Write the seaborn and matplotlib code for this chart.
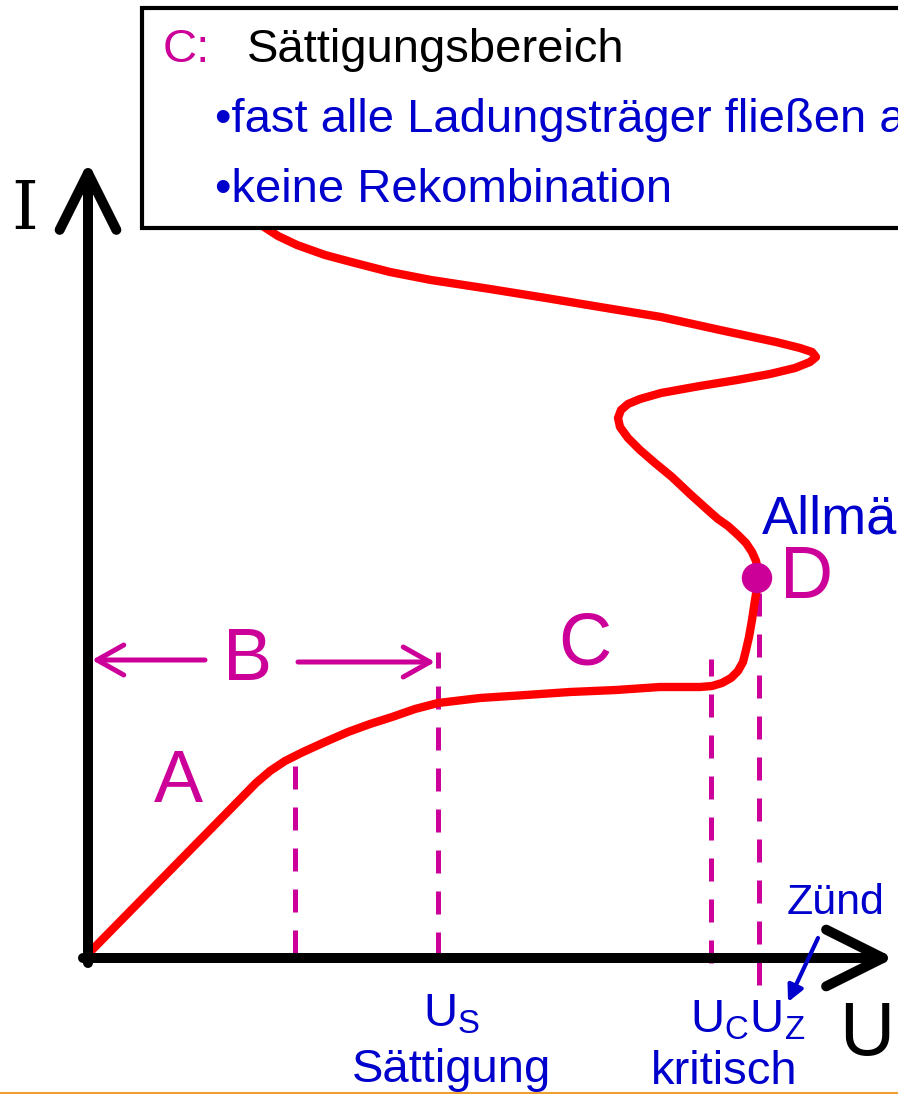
import matplotlib.pyplot as plt
import seaborn as sns
import pandas as pd
from matplotlib.patches import Rectangle

# characteristic curve of a gas discharge (sketch), U and I in drawing units
curve_U = [4, 168, 182, 197, 215, 237, 260, 282, 304, 327, 350, 392, 438, 482, 528, 572,
           612, 624, 634, 643, 650, 655, 658, 661, 664, 667, 669, 670, 670, 668, 664, 658,
           650, 640, 630, 622, 612, 602, 584, 567, 552, 540, 532, 530, 533, 540, 552, 573,
           612, 649, 682, 707, 722, 728, 724, 712, 688, 632, 573, 512, 458, 402, 343, 302,
           267, 237, 209, 190, 173]
curve_I = [8, 175, 187, 197, 206, 216, 226, 234, 241, 249, 255, 260, 263, 266, 268, 271,
           271, 272, 275, 280, 287, 296, 308, 321, 338, 358, 370, 380, 388, 397, 406, 415,
           423, 432, 439, 446, 455, 464, 481, 495, 508, 520, 531, 540, 548, 554, 559, 565,
           572, 578, 584, 590, 596, 601, 606, 610, 616, 628, 641, 651, 660, 669, 678, 686,
           695, 703, 713, 722, 733]

# marker voltages (dashed lines) and their vertical extent
mark_U = [207, 350, 623, 671]
mark_I_top = [195, 306, 299, 368]
mark_I_bot = [5, 3, -5, -27]

point_D = (669, 380)

region_labels = ["A", "B", "C", "D"]
box_title = "Sättigungsbereich"
box_items = ["•fast alle Ladungsträger fließen ab", "•keine Rekombination"]

MAG = "#CC0099"
BLUE = "#0000CC"
BLACK = "#000000"

sns.set_theme(style="white")
plt.rcParams['font.family'] = ['Liberation Sans', 'DejaVu Sans']
plt.rcParams['mathtext.default'] = 'regular'

fig = plt.figure(figsize=(8.98, 10.94), dpi=100)
ax = fig.add_axes([0, 0, 1, 1])
ax.set_xlim(-88, 810)
ax.set_ylim(-136, 958)
ax.axis("off")

df = pd.DataFrame({"U": curve_U, "I": curve_I})
sns.lineplot(data=df, x="U", y="I", sort=False, estimator=None, errorbar=None,
             color="#FF0000", lw=6, ax=ax, zorder=3,
             solid_capstyle="round", solid_joinstyle="round")

for u, t, b in zip(mark_U, mark_I_top, mark_I_bot):
    ax.plot([u, u], [b, t], color=MAG, lw=3.6, dashes=(4.6, 3.6), zorder=2)

sns.scatterplot(x=[point_D[0]], y=[point_D[1]], s=480, color=MAG, edgecolor="none",
                ax=ax, zorder=5)

# axes arrows
arrow = dict(arrowstyle="->,head_length=3.4,head_width=1.7", lw=7.2, color=BLACK,
             capstyle="round", joinstyle="round", shrinkA=0, shrinkB=0)
ax.annotate("", xy=(0, 796), xytext=(0, -5), arrowprops=arrow)
ax.annotate("", xy=(806, 0), xytext=(-5, 0), arrowprops=arrow)

# B range arrows
barrow = dict(arrowstyle="->,head_length=1.6,head_width=0.9", lw=3.6, color=MAG,
              shrinkA=0, shrinkB=0)
ax.annotate("", xy=(4, 298), xytext=(117, 298), arrowprops=barrow)
ax.annotate("", xy=(347, 296), xytext=(210, 296), arrowprops=barrow)

big = 53
ax.text(90, 176, region_labels[0], color=MAG, fontsize=big, ha="center", va="center")
ax.text(160, 298, region_labels[1], color=MAG, fontsize=big, ha="center", va="center")
ax.text(497, 313, region_labels[2], color=MAG, fontsize=big, ha="center", va="center")
ax.text(692, 380, region_labels[3], color=MAG, fontsize=big, ha="left", va="center")

ax.text(674, 438, "Allmählich", color=BLUE, fontsize=39, ha="left", va="center")

# axis names
ax.text(-63, 748, "I", color=BLACK, fontsize=49, ha="center", va="center",
        family="DejaVu Serif")
ax.text(779, -77, "U", color=BLACK, fontsize=55, ha="center", va="center")

# voltage labels
ax.text(363, -69, "U$_S$", color=BLUE, fontsize=34, ha="center", va="baseline")
ax.text(364, -112, "Sättigung", color=BLUE, fontsize=34, ha="center", va="center")
ax.text(660, -75, "U$_C$U$_Z$", color=BLUE, fontsize=34, ha="center", va="baseline")
ax.text(636, -114, "kritisch", color=BLUE, fontsize=34, ha="center", va="center")
ax.text(748, 55, "Zünd", color=BLUE, fontsize=31, ha="center", va="center")
ax.annotate("", xy=(700, -44), xytext=(730, 20),
            arrowprops=dict(arrowstyle="-|>,head_length=0.8,head_width=0.4", lw=3,
                            color=BLUE, shrinkA=0, shrinkB=0))

# text box
ax.add_patch(Rectangle((54, 730), 900, 220, facecolor="white", edgecolor=BLACK,
                       lw=3, zorder=6, clip_on=False))
ax.text(75, 908, "C:", color=MAG, fontsize=34, ha="left", va="center", zorder=7)
ax.text(159, 908, box_title, color=BLACK, fontsize=34, ha="left", va="center", zorder=7)
ax.text(127, 838, box_items[0], color=BLUE, fontsize=34, ha="left", va="center", zorder=7)
ax.text(127, 768, box_items[1], color=BLUE, fontsize=34, ha="left", va="center", zorder=7)

ax.axhline(-134.5, color="#F0A030", lw=1.5)

fig.savefig("out.png", dpi=100)
plt.close(fig)
